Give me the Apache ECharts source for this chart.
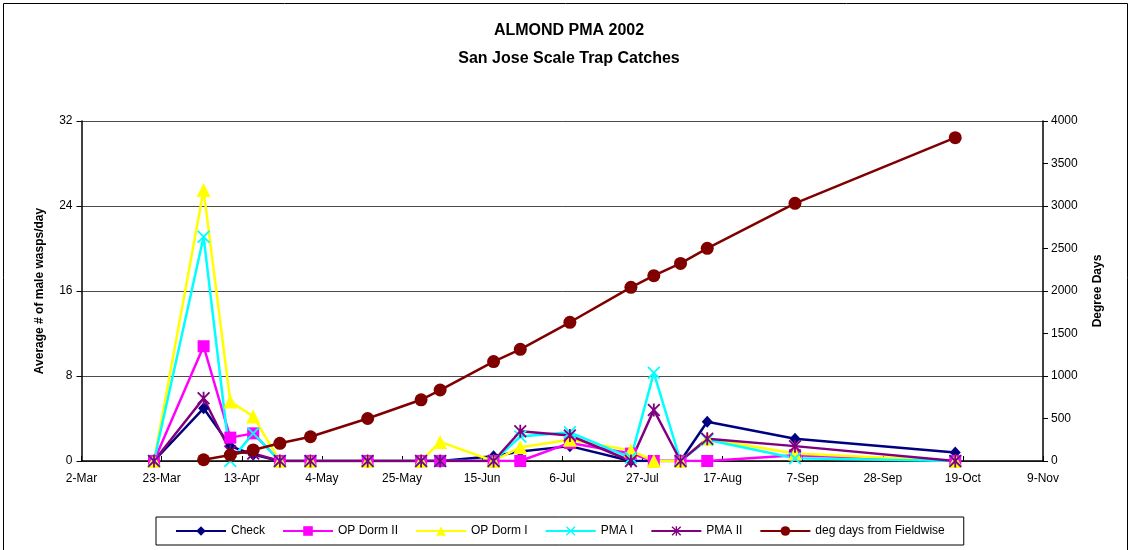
<!DOCTYPE html>
<html><head><meta charset="utf-8">
<script src="https://cdn.jsdelivr.net/npm/echarts@6/dist/echarts.min.js"></script>
<style>html,body{margin:0;padding:0;background:#fff}#c{width:1130px;height:550px}</style>
</head><body><div id="c"></div><script>
// ---- data ----
const trapDates = ['2002-03-21','2002-04-03','2002-04-10','2002-04-16','2002-04-23','2002-05-01','2002-05-16','2002-05-30','2002-06-04','2002-06-18','2002-06-25','2002-07-08','2002-07-24','2002-07-30','2002-08-06','2002-08-13','2002-09-05','2002-10-17'];
const checkVals   = [0, 4.96, 1.4, 0.6, 0, 0, 0, 0, 0, 0.45, 0.9, 1.4, 0, 0, 0, 3.7, 2.1, 0.8];
const opDorm2Vals = [0, 10.8, 2.2, 2.6, 0, 0, 0, 0, 0, 0, 0, 1.7, 0.7, 0, 0, 0, 0.55, 0];
const opDorm1Vals = [0, 25.5, 5.6, 4.2, 0, 0, 0, 0, 1.8, 0, 1.3, 2.0, 1.0, 0, 0, 2.1, 0.7, 0];
const pma1Vals    = [0, 21.1, 0, 2.6, 0, 0, 0, 0, 0, 0, 2.3, 2.7, 0.3, 8.3, 0, 2.0, 0.25, 0];
const pma2Vals    = [0, 5.9, 0.9, 0.7, 0, 0, 0, 0, 0, 0, 2.8, 2.4, 0, 4.8, 0, 2.1, 1.4, 0];
const ddDates = ['2002-04-03','2002-04-10','2002-04-16','2002-04-23','2002-05-01','2002-05-16','2002-05-30','2002-06-04','2002-06-18','2002-06-25','2002-07-08','2002-07-24','2002-07-30','2002-08-06','2002-08-13','2002-09-05','2002-10-17'];
const ddVals = [15, 70, 130, 208, 285, 500, 720, 835, 1170, 1314, 1632, 2043, 2180, 2325, 2502, 3031, 3804];
const xTickLabels = ['2-Mar','23-Mar','13-Apr','4-May','25-May','15-Jun','6-Jul','27-Jul','17-Aug','7-Sep','28-Sep','19-Oct','9-Nov'];
const leftTicks = [0, 8, 16, 24, 32];
const rightTicks = [0, 500, 1000, 1500, 2000, 2500, 3000, 3500, 4000];
const seriesNames = ['Check','OP Dorm II','OP Dorm I','PMA I','PMA II','deg days from Fieldwise'];

// ---- helpers ----
const START = Date.UTC(2002, 2, 2);
function dayOf(s){ const p = s.split('-').map(Number); return Math.round((Date.UTC(p[0], p[1]-1, p[2]) - START) / 86400000); }
function pairs(dates, vals){ return dates.map((d, i) => [dayOf(d), vals[i]]); }

const FONT = 'Liberation Sans, Arial, sans-serif';
const xSym = 'path://M0,1L1,0L5,4L9,0L10,1L6,5L10,9L9,10L5,6L1,10L0,9L4,5Z';
const starSym = 'path://M0,1L1,0L5,4L9,0L10,1L6,5L10,9L9,10L5,6L1,10L0,9L4,5ZM4.3,0L5.7,0L5.7,10L4.3,10Z';

function lineSeries(name, data, color, symbol, size, yIdx){
  return {
    name, type: 'line', data, yAxisIndex: yIdx || 0,
    symbol, symbolSize: size, showSymbol: true,
    lineStyle: { color, width: 2.5 },
    itemStyle: { color },
    emphasis: { disabled: true }
  };
}

const chart = echarts.init(document.getElementById('c'));
chart.setOption({
  animation: false,
  textStyle: { fontFamily: FONT },
  grid: { left: 81.5, right: 87, top: 121, bottom: 89, containLabel: false },
  graphic: [
    { type: 'rect', shape: { x: 3.5, y: 3.5, width: 1124, height: 600 }, style: { fill: 'none', stroke: '#000', lineWidth: 1 }, silent: true },
    { type: 'text', x: 569, y: 23, style: { text: 'ALMOND PMA 2002', font: 'bold 16px ' + FONT, fill: '#000', align: 'center' } },
    { type: 'text', x: 569, y: 51, style: { text: 'San Jose Scale Trap Catches', font: 'bold 16px ' + FONT, fill: '#000', align: 'center' } },
    { type: 'text', x: 40, y: 291, rotation: Math.PI/2, style: { text: 'Average # of male wasps/day', font: 'bold 12px ' + FONT, fill: '#000', align: 'center', verticalAlign: 'middle' } },
    { type: 'text', x: 1098, y: 291, rotation: Math.PI/2, style: { text: 'Degree Days', font: 'bold 12px ' + FONT, fill: '#000', align: 'center', verticalAlign: 'middle' } }
  ],
  legend: {
    data: seriesNames,
    left: 156, top: 517,
    padding: [8, 19],
    itemGap: 17, itemWidth: 50, itemHeight: 12,
    borderColor: '#000', borderWidth: 1, backgroundColor: '#fff',
    textStyle: { fontFamily: FONT, fontSize: 12, color: '#000' }
  },
  xAxis: {
    type: 'value', min: 0, max: 252, interval: 21,
    axisLine: { lineStyle: { color: '#000', width: 1.5 } },
    axisTick: { inside: true, length: 5, lineStyle: { color: '#000' } },
    axisLabel: { color: '#000', fontSize: 12, margin: 12, formatter: v => xTickLabels[Math.round(v / 21)] },
    splitLine: { show: false }
  },
  yAxis: [
    {
      type: 'value', min: leftTicks[0], max: leftTicks[leftTicks.length-1], interval: 8,
      axisLine: { show: true, lineStyle: { color: '#000', width: 1.5 } },
      axisTick: { show: true, length: 5, lineStyle: { color: '#000' } },
      axisLabel: { color: '#000', fontSize: 12, margin: 9, formatter: v => String(v) },
      splitLine: { show: true, lineStyle: { color: '#4a4a4a', width: 1 } }
    },
    {
      type: 'value', min: rightTicks[0], max: rightTicks[rightTicks.length-1], interval: 500,
      position: 'right',
      axisLine: { show: true, lineStyle: { color: '#000', width: 1.5 } },
      axisTick: { show: true, length: 5, lineStyle: { color: '#000' } },
      axisLabel: { color: '#000', fontSize: 12, margin: 8, formatter: v => String(v) },
      splitLine: { show: false }
    }
  ],
  series: [
    lineSeries(seriesNames[0], pairs(trapDates, checkVals), '#000080', 'diamond', [11, 12]),
    lineSeries(seriesNames[1], pairs(trapDates, opDorm2Vals), '#FF00FF', 'rect', 12),
    lineSeries(seriesNames[2], pairs(trapDates, opDorm1Vals), '#FFFF00', 'triangle', 14),
    lineSeries(seriesNames[3], pairs(trapDates, pma1Vals), '#00FFFF', xSym, 13),
    lineSeries(seriesNames[4], pairs(trapDates, pma2Vals), '#800080', starSym, 13),
    lineSeries(seriesNames[5], pairs(ddDates, ddVals), '#800000', 'circle', 13, 1)
  ]
});
</script></body></html>
